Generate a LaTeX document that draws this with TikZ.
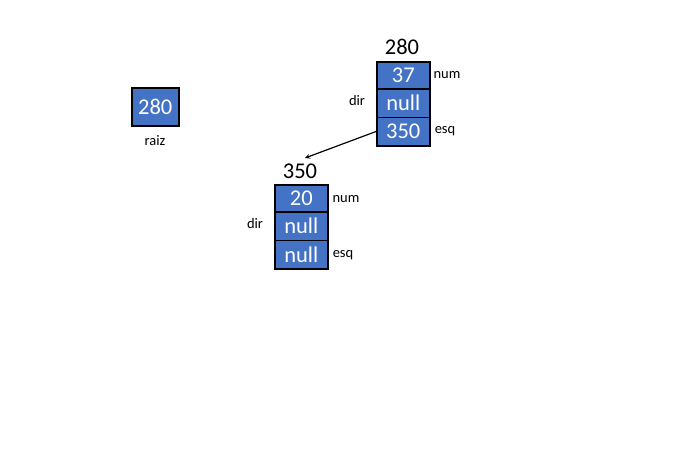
\documentclass[tikz,border=0pt]{standalone}
\usepackage{fontspec}
\setmainfont{Carlito}
\definecolor{cellblue}{HTML}{4472C4}
\begin{document}
\begin{tikzpicture}[x=1pt,y=-1pt,
  cell/.style={draw=black,line width=1.5pt,fill=cellblue,text=white,minimum width=53pt,minimum height=28pt,inner sep=0pt,font=\fontsize{22.5}{22}\selectfont,anchor=north west},
  big/.style={font=\fontsize{22.5}{22}\selectfont,inner sep=0pt},
  small/.style={font=\fontsize{14.5}{15}\selectfont,inner sep=0pt}]
\useasboundingbox (0,0) rectangle (675,467);
% raiz
\node[cell,minimum width=47pt,minimum height=38pt] (r) at (131,87) {280};
\node[small] (rl) at (155,141) {raiz};
% node 280
\node[big] (t280) at (402,47) {280};
\node[cell] (a1) at (376,61) {37};
\node[cell,minimum height=28.5pt] (a2) at (376,88) {null};
\node[cell,minimum height=28.5pt] (a3) at (376,116.5) {350};
\node[small] (an) at (447,75) {num};
\node[small] (ad) at (357,101) {dir};
\node[small] (ae) at (445,131) {esq};
% node 350
\node[big] (t350) at (300,171) {350};
\node[cell] (b1) at (274,184) {20};
\node[cell,minimum height=28.5pt] (b2) at (274,211) {null};
\node[cell,minimum height=28.5pt] (b3) at (274,239.5) {null};
\node[small] (bn) at (346,199) {num};
\node[small] (bd) at (255,224) {dir};
\node[small] (be) at (343,255) {esq};
% arrow
\coordinate (tip) at (305,158);
\draw[line width=1.2pt,-stealth] (a3.west) -- (tip);
\end{tikzpicture}
\end{document}
